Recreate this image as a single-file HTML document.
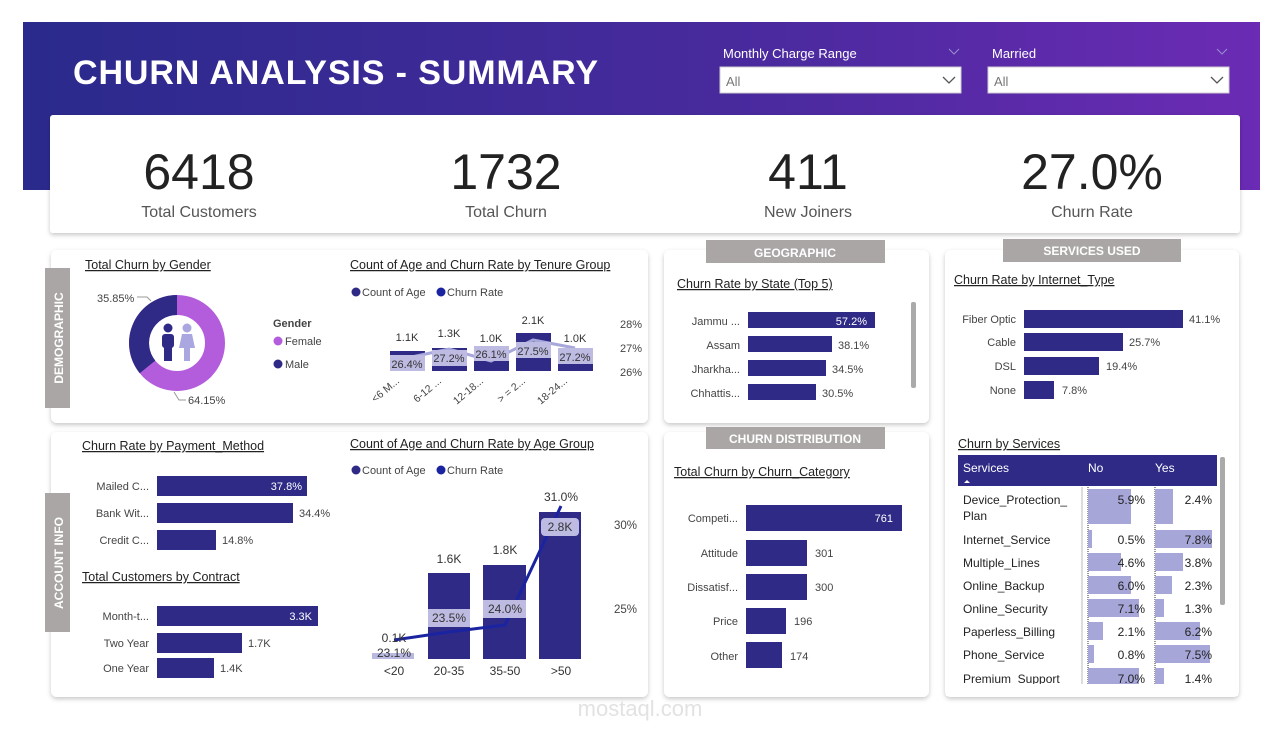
<!DOCTYPE html>
<html><head><meta charset="utf-8"><style>
html,body{margin:0;padding:0;background:#fff;}
svg{display:block;font-family:"Liberation Sans",sans-serif;}
.t{font-size:12.5px;fill:#222;text-decoration:underline;}
.l{font-size:11px;fill:#444;}
.v{font-size:11px;fill:#333;}
</style></head><body>
<svg width="1280" height="736" viewBox="0 0 1280 736">
<defs>
<linearGradient id="hg" x1="0" x2="1" y1="0" y2="0"><stop offset="0" stop-color="#2a2a8c"/><stop offset="0.6" stop-color="#4a2a9e"/><stop offset="1" stop-color="#6b2bb4"/></linearGradient>
<filter id="sh" x="-5%" y="-5%" width="110%" height="115%"><feDropShadow dx="0" dy="2" stdDeviation="2.5" flood-color="#000" flood-opacity="0.22"/></filter>
</defs>
<rect x="23" y="22" width="1237" height="168" fill="url(#hg)"/>
<text x="73" y="84" font-weight="bold" font-size="34" fill="#fff" textLength="525">CHURN ANALYSIS - SUMMARY</text>
<text x="723" y="58" font-size="13" fill="#fff">Monthly Charge Range</text>
<path d="M949 49l5 5 5-5" stroke="#9a8fd0" fill="none"/>
<rect x="720" y="67" width="241" height="26" fill="#fff" stroke="#ccc"/>
<text x="726" y="86" font-size="13" fill="#777">All</text>
<path d="M943 77l6 6 6-6" stroke="#555" fill="none" stroke-width="1.3"/>
<text x="992" y="58" font-size="13" fill="#fff">Married</text>
<path d="M1217 49l5 5 5-5" stroke="#9a8fd0" fill="none"/>
<rect x="988" y="67" width="241" height="26" fill="#fff" stroke="#ccc"/>
<text x="994" y="86" font-size="13" fill="#777">All</text>
<path d="M1211 77l6 6 6-6" stroke="#555" fill="none" stroke-width="1.3"/>

<rect x="50" y="115" width="1190" height="118" rx="3" fill="#fff" filter="url(#sh)"/>
<g font-size="50" fill="#222" text-anchor="middle">
<text x="199" y="189">6418</text><text x="506" y="189">1732</text><text x="808" y="189">411</text><text x="1092" y="189">27.0%</text></g>
<g font-size="16" fill="#555" text-anchor="middle">
<text x="199" y="217">Total Customers</text><text x="506" y="217">Total Churn</text><text x="808" y="217">New Joiners</text><text x="1092" y="217">Churn Rate</text></g>

<rect x="51" y="250" width="597" height="173" rx="6" fill="#fff" filter="url(#sh)"/>
<rect x="51" y="432" width="597" height="265" rx="6" fill="#fff" filter="url(#sh)"/>
<rect x="664" y="250" width="265" height="173" rx="6" fill="#fff" filter="url(#sh)"/>
<rect x="664" y="432" width="265" height="265" rx="6" fill="#fff" filter="url(#sh)"/>
<rect x="945" y="250" width="294" height="447" rx="6" fill="#fff" filter="url(#sh)"/>

<rect x="45" y="268" width="25" height="140" fill="#aaa6a6"/>
<text transform="translate(63,338) rotate(-90)" text-anchor="middle" font-weight="bold" font-size="12" fill="#fff">DEMOGRAPHIC</text>
<rect x="45" y="493" width="25" height="139" fill="#aaa6a6"/>
<text transform="translate(63,563) rotate(-90)" text-anchor="middle" font-weight="bold" font-size="12" fill="#fff">ACCOUNT INFO</text>
<rect x="706" y="240" width="179" height="23" fill="#aaa6a6"/>
<text x="795" y="257" text-anchor="middle" font-weight="bold" font-size="12" fill="#fff">GEOGRAPHIC</text>
<rect x="706" y="427" width="179" height="22" fill="#aaa6a6"/>
<text x="795" y="443" text-anchor="middle" font-weight="bold" font-size="12" fill="#fff">CHURN DISTRIBUTION</text>
<rect x="1003" y="239" width="178" height="23" fill="#aaa6a6"/>
<text x="1092" y="255" text-anchor="middle" font-weight="bold" font-size="12" fill="#fff">SERVICES USED</text>

<!-- Gender -->
<text x="85" y="269" class="t">Total Churn by Gender</text>
<circle cx="177" cy="343" r="38" fill="none" stroke="#b35ddd" stroke-width="20"/>
<path d="M177 305 A38 38 0 0 0 147.5 366.9" fill="none" stroke="#2e2a86" stroke-width="20"/>
<circle cx="177" cy="343" r="27" fill="#fff"/>
<circle cx="168" cy="328" r="4.5" fill="#2e2a86"/><rect x="162" y="334" width="12" height="14" rx="3" fill="#2e2a86"/><rect x="164" y="346" width="8" height="15" fill="#2e2a86"/>
<circle cx="187" cy="328" r="4.5" fill="#a9a6e0"/><path d="M182 334h10l3 14h-16z" fill="#a9a6e0"/><rect x="184" y="346" width="6" height="15" fill="#a9a6e0"/>
<text x="97" y="302" class="l">35.85%</text><path d="M137 297h10l4 4" stroke="#999" fill="none"/>
<text x="188" y="404" class="l">64.15%</text><path d="M174 392l5 8h7" stroke="#999" fill="none"/>
<text x="273" y="327" font-weight="bold" font-size="11" fill="#444">Gender</text>
<circle cx="278" cy="341" r="4.5" fill="#b35ddd"/><text x="285" y="345" class="l">Female</text>
<circle cx="278" cy="364" r="4.5" fill="#2e2a86"/><text x="285" y="368" class="l">Male</text>

<!-- Tenure -->
<text x="350" y="269" class="t">Count of Age and Churn Rate by Tenure Group</text>
<circle cx="356" cy="292" r="4.5" fill="#2e2a86"/><text x="362" y="296" font-size="11" fill="#444">Count of Age</text>
<circle cx="441" cy="292" r="4.5" fill="#1a23a0"/><text x="447" y="296" font-size="11" fill="#444">Churn Rate</text>
<g fill="#2e2a86"><rect x="390" y="351" width="35" height="20"/><rect x="432" y="348" width="35" height="23"/><rect x="474" y="354" width="35" height="17"/><rect x="516" y="333" width="35" height="38"/><rect x="558" y="354" width="35" height="17"/></g>
<polyline points="407,358 449,349 491,361 533,340 575,348" fill="none" stroke="#a8a7dc" stroke-width="3"/>
<g fill="#bdbbe2"><rect x="390" y="355" width="35" height="16"/><rect x="432" y="350" width="35" height="16"/><rect x="474" y="346" width="35" height="15"/><rect x="516" y="342" width="35" height="16"/><rect x="558" y="348" width="35" height="16"/></g>
<g class="v" text-anchor="middle">
<text x="407" y="368">26.4%</text><text x="449" y="362">27.2%</text><text x="491" y="358">26.1%</text><text x="533" y="355">27.5%</text><text x="575" y="361">27.2%</text>
<text x="407" y="341">1.1K</text><text x="449" y="337">1.3K</text><text x="491" y="342">1.0K</text><text x="533" y="324">2.1K</text><text x="575" y="342">1.0K</text></g>
<g font-size="11" fill="#444"><text x="620" y="328">28%</text><text x="620" y="352">27%</text><text x="620" y="376">26%</text></g>
<g font-size="10.5" fill="#444" text-anchor="end">
<text transform="translate(400,382) rotate(-40)">&lt;6 M...</text><text transform="translate(442,382) rotate(-40)">6-12 ...</text><text transform="translate(484,382) rotate(-40)">12-18...</text><text transform="translate(526,382) rotate(-40)">&gt; = 2...</text><text transform="translate(568,382) rotate(-40)">18-24...</text></g>

<!-- Payment -->
<text x="82" y="450" class="t">Churn Rate by Payment_Method</text>
<g fill="#2e2a86"><rect x="157" y="476" width="150" height="20"/><rect x="157" y="503" width="136" height="20"/><rect x="157" y="530" width="59" height="20"/></g>
<g class="l" text-anchor="end"><text x="149" y="490">Mailed C...</text><text x="149" y="517">Bank Wit...</text><text x="149" y="544">Credit C...</text></g>
<text x="302" y="490" text-anchor="end" font-size="11" fill="#fff">37.8%</text>
<text x="299" y="517" class="l">34.4%</text><text x="222" y="544" class="l">14.8%</text>
<text x="82" y="581" class="t">Total Customers by Contract</text>
<g fill="#2e2a86"><rect x="157" y="606" width="161" height="20"/><rect x="157" y="633" width="85" height="20"/><rect x="157" y="658" width="57" height="20"/></g>
<g class="l" text-anchor="end"><text x="149" y="620">Month-t...</text><text x="149" y="647">Two Year</text><text x="149" y="672">One Year</text></g>
<text x="312" y="620" text-anchor="end" font-size="11" fill="#fff">3.3K</text>
<text x="248" y="647" class="l">1.7K</text><text x="220" y="672" class="l">1.4K</text>

<!-- Age group -->
<text x="350" y="448" class="t">Count of Age and Churn Rate by Age Group</text>
<circle cx="356" cy="470" r="4.5" fill="#2e2a86"/><text x="362" y="474" font-size="11" fill="#444">Count of Age</text>
<circle cx="441" cy="470" r="4.5" fill="#1a23a0"/><text x="447" y="474" font-size="11" fill="#444">Churn Rate</text>
<g fill="#2e2a86"><rect x="428" y="573" width="42" height="86"/><rect x="483" y="565" width="43" height="94"/><rect x="539" y="512" width="42" height="147"/></g>
<rect x="372" y="653" width="42" height="6" fill="#b9b8e0"/>
<polyline points="394,640 449,632 505,625 561,506" fill="none" stroke="#1a23a0" stroke-width="3"/>
<rect x="428" y="609" width="42" height="18" fill="#bdbbe2"/><rect x="483" y="600" width="43" height="18" fill="#bdbbe2"/><rect x="541" y="518" width="38" height="18" rx="4" fill="#bdbbe2"/>
<g font-size="12" fill="#333" text-anchor="middle">
<text x="449" y="622">23.5%</text><text x="505" y="613">24.0%</text><text x="560" y="531">2.8K</text>
<text x="394" y="642">0.1K</text><text x="394" y="657">23.1%</text><text x="449" y="563">1.6K</text><text x="505" y="554">1.8K</text><text x="561" y="501">31.0%</text>
<text x="394" y="675">&lt;20</text><text x="449" y="675">20-35</text><text x="505" y="675">35-50</text><text x="561" y="675">&gt;50</text></g>
<g font-size="11.5" fill="#444"><text x="614" y="529">30%</text><text x="614" y="613">25%</text></g>

<!-- State -->
<text x="677" y="288" class="t">Churn Rate by State (Top 5)</text>
<g fill="#2e2a86"><rect x="748" y="312" width="127" height="16"/><rect x="748" y="336" width="84" height="16"/><rect x="748" y="360" width="78" height="16"/><rect x="748" y="384" width="68" height="16"/></g>
<g class="l" text-anchor="end"><text x="740" y="325">Jammu ...</text><text x="740" y="349">Assam</text><text x="740" y="373">Jharkha...</text><text x="740" y="397">Chhattis...</text></g>
<text x="867" y="325" text-anchor="end" font-size="11" fill="#fff">57.2%</text>
<text x="838" y="349" class="l">38.1%</text><text x="832" y="373" class="l">34.5%</text><text x="822" y="397" class="l">30.5%</text>
<rect x="911" y="302" width="5" height="86" rx="2" fill="#aaa"/>

<!-- Category -->
<text x="674" y="476" class="t">Total Churn by Churn_Category</text>
<g fill="#2e2a86"><rect x="746" y="505" width="156" height="26"/><rect x="746" y="540" width="61" height="26"/><rect x="746" y="574" width="61" height="26"/><rect x="746" y="608" width="40" height="26"/><rect x="746" y="642" width="36" height="26"/></g>
<g class="l" text-anchor="end"><text x="738" y="522">Competi...</text><text x="738" y="557">Attitude</text><text x="738" y="591">Dissatisf...</text><text x="738" y="625">Price</text><text x="738" y="660">Other</text></g>
<text x="893" y="522" text-anchor="end" font-size="11" fill="#fff">761</text>
<text x="815" y="557" class="l">301</text><text x="815" y="591" class="l">300</text><text x="794" y="625" class="l">196</text><text x="790" y="660" class="l">174</text>

<!-- Internet -->
<text x="954" y="284" class="t">Churn Rate by Internet_Type</text>
<g fill="#2e2a86"><rect x="1024" y="310" width="159" height="18"/><rect x="1024" y="333" width="99" height="18"/><rect x="1024" y="357" width="75" height="18"/><rect x="1024" y="381" width="30" height="18"/></g>
<g class="l" text-anchor="end"><text x="1016" y="323">Fiber Optic</text><text x="1016" y="346">Cable</text><text x="1016" y="370">DSL</text><text x="1016" y="394">None</text></g>
<text x="1189" y="323" class="l">41.1%</text><text x="1129" y="346" class="l">25.7%</text><text x="1106" y="370" class="l">19.4%</text><text x="1062" y="394" class="l">7.8%</text>

<!-- Services table -->
<text x="958" y="448" class="t">Churn by Services</text>
<rect x="958" y="455" width="259" height="31" fill="#2e2a86"/>
<g font-size="12" fill="#fff"><text x="963" y="472">Services</text><text x="1088" y="472">No</text><text x="1155" y="472">Yes</text></g>
<path d="M964 483l3-3 3 3z" fill="#fff"/>
<rect x="1220" y="457" width="5" height="148" rx="2" fill="#aaa"/>
<line x1="1082" y1="487" x2="1082" y2="684" stroke="#bbb"/>
<line x1="1088" y1="487" x2="1088" y2="684" stroke="#333" stroke-dasharray="1,1"/>
<line x1="1155" y1="487" x2="1155" y2="684" stroke="#333" stroke-dasharray="1,1"/>
<g fill="#a6a6d8">
<rect x="1088" y="489" width="43" height="35"/><rect x="1155" y="489" width="18" height="35"/>
<rect x="1088" y="530" width="4" height="18"/><rect x="1155" y="530" width="57" height="18"/>
<rect x="1088" y="553" width="33" height="18"/><rect x="1155" y="553" width="28" height="18"/>
<rect x="1088" y="576" width="43" height="18"/><rect x="1155" y="576" width="17" height="18"/>
<rect x="1088" y="599" width="51" height="18"/><rect x="1155" y="599" width="9" height="18"/>
<rect x="1088" y="622" width="15" height="18"/><rect x="1155" y="622" width="45" height="18"/>
<rect x="1088" y="645" width="6" height="18"/><rect x="1155" y="645" width="55" height="18"/>
<rect x="1088" y="668" width="51" height="16"/><rect x="1155" y="668" width="9" height="16"/></g>
<g font-size="12" fill="#222">
<text x="963" y="504">Device_Protection_</text><text x="963" y="520">Plan</text>
<text x="963" y="544">Internet_Service</text><text x="963" y="567">Multiple_Lines</text><text x="963" y="590">Online_Backup</text><text x="963" y="613">Online_Security</text><text x="963" y="636">Paperless_Billing</text><text x="963" y="659">Phone_Service</text><text x="963" y="683">Premium_Support</text></g>
<g font-size="12" fill="#222" text-anchor="end">
<text x="1145" y="504">5.9%</text><text x="1212" y="504">2.4%</text>
<text x="1145" y="544">0.5%</text><text x="1212" y="544">7.8%</text>
<text x="1145" y="567">4.6%</text><text x="1212" y="567">3.8%</text>
<text x="1145" y="590">6.0%</text><text x="1212" y="590">2.3%</text>
<text x="1145" y="613">7.1%</text><text x="1212" y="613">1.3%</text>
<text x="1145" y="636">2.1%</text><text x="1212" y="636">6.2%</text>
<text x="1145" y="659">0.8%</text><text x="1212" y="659">7.5%</text>
<text x="1145" y="683">7.0%</text><text x="1212" y="683">1.4%</text></g>
<rect x="946" y="684" width="292" height="12" fill="#fff"/>

<text x="640" y="716" text-anchor="middle" font-size="22" fill="#e2e2e2">mostaql.com</text>
</svg>
</body></html>
